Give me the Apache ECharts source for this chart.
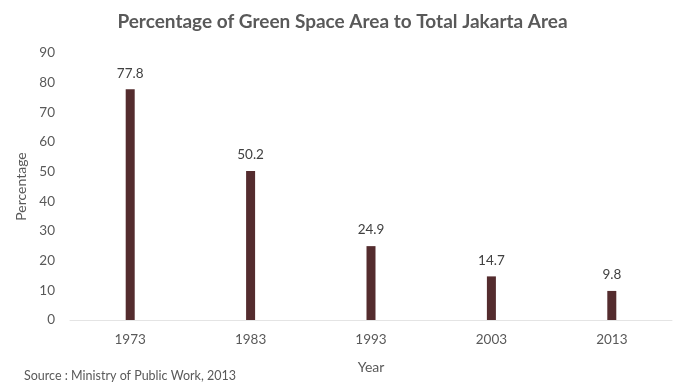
<!DOCTYPE html>
<html>
<head>
<meta charset="utf-8">
<script src="https://cdn.jsdelivr.net/npm/echarts@6/dist/echarts.min.js"></script>
<style>html,body{margin:0;padding:0;background:#fff}#c{width:685px;height:389px}</style>
</head>
<body>
<div id="c"></div>
<script>
const categories = ['1973', '1983', '1993', '2003', '2013'];
const values = [77.8, 50.2, 24.9, 14.7, 9.8];
const yTicks = [0, 10, 20, 30, 40, 50, 60, 70, 80, 90];

const chart = echarts.init(document.getElementById('c'));
const font = 'Lato';
chart.setOption({
  animation: false,
  backgroundColor: '#ffffff',
  title: {
    text: 'Percentage of Green Space Area to Total Jakarta Area',
    left: 'center',
    top: 7,
    textStyle: { fontFamily: font, fontSize: 19, fontWeight: 'bold', color: '#595959' }
  },
  graphic: [{
    type: 'text',
    left: 24,
    top: 369,
    style: { text: 'Source : Ministry of Public Work, 2013', fontFamily: font, fontSize: 12.5, fill: '#595959' }
  }],
  grid: { left: 70, right: 13, top: 53, bottom: 69 },
  xAxis: {
    type: 'category',
    data: categories,
    name: 'Year',
    nameLocation: 'middle',
    nameGap: 40,
    nameTextStyle: { fontFamily: font, fontSize: 14, color: '#595959' },
    axisLine: { show: true, lineStyle: { color: '#e4e4e4', width: 1 } },
    axisTick: { show: false },
    axisLabel: { fontFamily: font, fontSize: 13.5, color: '#595959', margin: 13 }
  },
  yAxis: {
    type: 'value',
    min: yTicks[0],
    max: yTicks[yTicks.length - 1],
    interval: 10,
    name: 'Percentage',
    nameLocation: 'middle',
    nameGap: 38,
    nameTextStyle: { fontFamily: font, fontSize: 14, color: '#595959' },
    axisLine: { show: false },
    axisTick: { show: false },
    splitLine: { show: false },
    axisLabel: { fontFamily: font, fontSize: 13.5, color: '#595959', margin: 15 }
  },
  series: [{
    type: 'bar',
    data: values,
    barWidth: 9,
    itemStyle: { color: '#542c2e' },
    label: {
      show: true,
      position: 'top',
      distance: 9,
      fontFamily: font,
      fontSize: 13.5,
      color: '#404040'
    }
  }]
});
</script>
</body>
</html>
